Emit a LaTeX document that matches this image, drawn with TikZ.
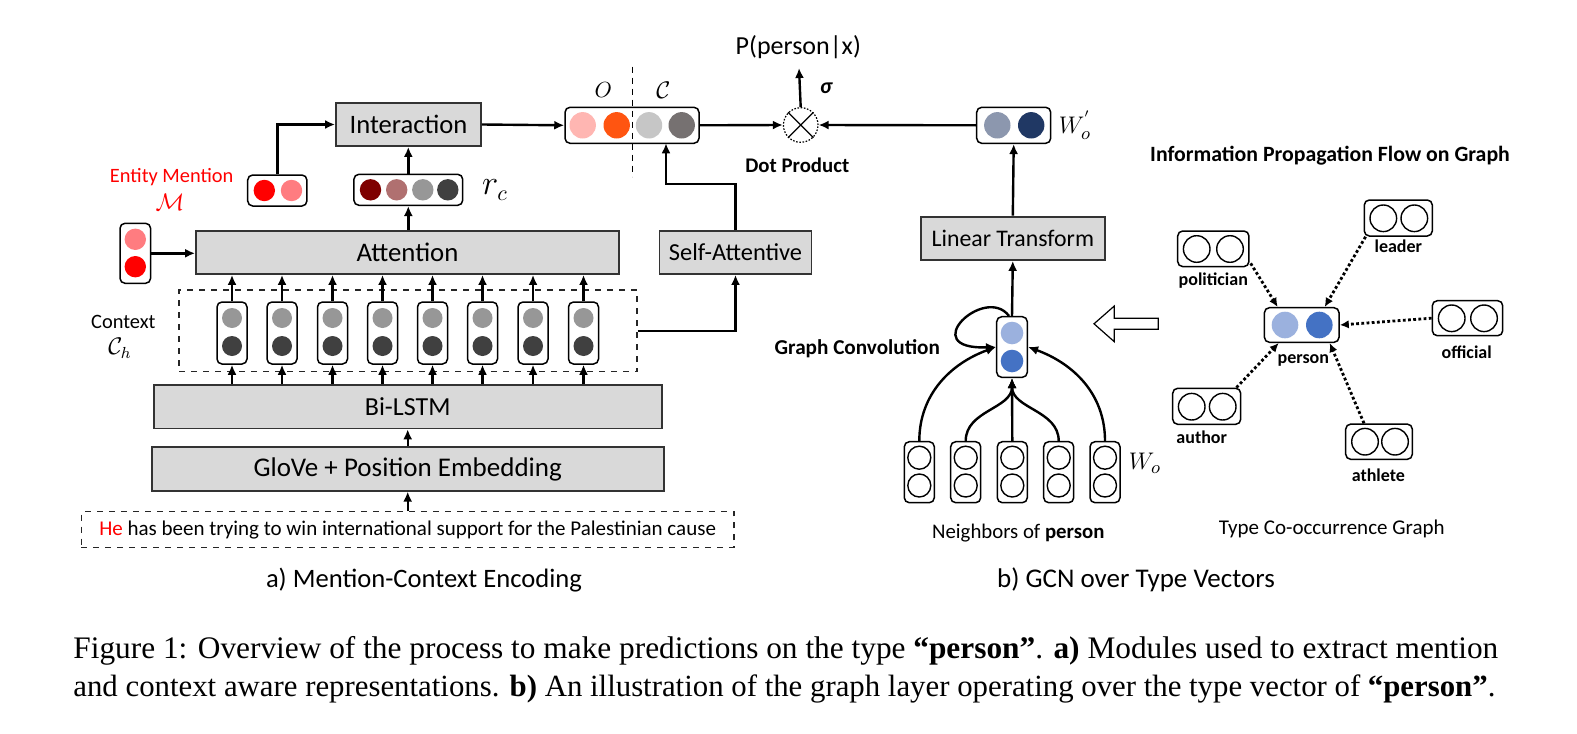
\documentclass[tikz,border=0pt]{standalone}
\usepackage{fontspec}
\setmainfont{Carlito}
\newfontfamily\capfont{Liberation Serif}
\usetikzlibrary{arrows.meta,calc}
\definecolor{boxgray}{HTML}{D9D9D9}
\definecolor{mred}{HTML}{FF0000}
\definecolor{mlight}{HTML}{FF7C80}
\definecolor{rcA}{HTML}{7F0000}
\definecolor{rcB}{HTML}{B07070}
\definecolor{cgray}{HTML}{979797}
\definecolor{cdark}{HTML}{404040}
\definecolor{ocA}{HTML}{FFB6B2}
\definecolor{ocB}{HTML}{FF5511}
\definecolor{ocC}{HTML}{C6C6C6}
\definecolor{ocD}{HTML}{767171}
\definecolor{woA}{HTML}{8C97AE}
\definecolor{woB}{HTML}{203864}
\definecolor{pA}{HTML}{9BB1DE}
\definecolor{pB}{HTML}{4472C4}
\tikzset{
  gbox/.style={draw=black!80, fill=boxgray, line width=0.9pt, inner sep=0pt, font=\fontsize{13.3}{15}\selectfont},
  vecbox/.style={draw=black, fill=white, rounded corners=2.5pt, line width=0.75pt, inner sep=0pt},
  dotc/.style={circle, inner sep=0pt, minimum size=#1},
  ring/.style={circle, draw=black, line width=0.7pt, inner sep=0pt, minimum size=#1},
  arr/.style={-{Latex[length=5pt,width=4.5pt]}, line width=1.2pt},
  darr/.style={-{Latex[length=4.5pt,width=4.2pt]}, line width=1.4pt, dash pattern=on 1.4pt off 1.2pt},
  lbl/.style={inner sep=0pt, font=\fontsize{10.2}{12}\selectfont},
  blbl/.style={inner sep=0pt, font=\fontsize{10.5}{12}\selectfont\bfseries},
  tlbl/.style={inner sep=0pt, font=\fontsize{9}{11}\selectfont\bfseries}
}
\begin{document}
\begin{tikzpicture}[x=0.5pt,y=-0.5pt]
\useasboundingbox (0,0) rectangle (1577,733);

% ---------- left part ----------
\node[gbox, minimum width=72.5pt, minimum height=21.5pt] (inter) at (408.5,124.5) {Interaction};
\node[gbox, minimum width=211.5pt, minimum height=21.5pt, font=\fontsize{13.4}{15}\selectfont] (att) at (407.5,252.5) {Attention};
\node[gbox, minimum width=76pt, minimum height=21.5pt, font=\fontsize{12.2}{15}\selectfont] (sa) at (735.5,252.5) {Self-Attentive};
\node[gbox, minimum width=254pt, minimum height=21.7pt, font=\fontsize{13}{15}\selectfont] (bil) at (407.7,406.7) {Bi-LSTM};
\node[gbox, minimum width=256pt, minimum height=21.7pt, font=\fontsize{13.5}{15}\selectfont] (glove) at (407.7,469) {GloVe + Position Embedding};
\node[draw=black!85, dashed, line width=0.6pt, minimum width=326.3pt, minimum height=18pt, inner sep=0pt, font=\fontsize{10.5}{12}\selectfont] (sent) at (407.7,529.7) {\textcolor{mred}{He} has been trying to win international support for the Palestinian cause};
\node[draw=black!85, dashed, line width=0.6pt, minimum width=229pt, minimum height=40.8pt, inner sep=0pt] (ctx) at (408,330.8) {};

% entity mention horizontal vector
\node[vecbox, minimum width=29.6pt, minimum height=15.5pt] (mh) at (277.3,190.5) {};
\node[dotc=10.7pt, fill=mred] (mh1) at (264.3,190.5) {};
\node[dotc=10.7pt, fill=mlight] (mh2) at (291.5,190.5) {};
% r_c vector
\node[vecbox, minimum width=54.4pt, minimum height=15.5pt] (rc) at (408.3,189.8) {};
\node[dotc=10.7pt, fill=rcA] (rc1) at (370.5,189.8) {};
\node[dotc=10.7pt, fill=rcB] (rc2) at (396.7,189.8) {};
\node[dotc=10.7pt, fill=cgray] (rc3) at (422.8,189.8) {};
\node[dotc=10.7pt, fill=cdark] (rc4) at (447.8,189.8) {};
% mention vertical vector
\node[vecbox, minimum width=15.3pt, minimum height=30pt] (mv) at (135.3,253.3) {};
\node[dotc=10.7pt, fill=mlight] (mv1) at (135.3,239.3) {};
\node[dotc=10.7pt, fill=mred] (mv2) at (135.3,266.7) {};

\node[lbl, text=mred] (emt) at (171.7,177) {Entity Mention};
\node[inner sep=0pt, text=mred, font=\fontsize{12}{14}\selectfont] (eml) at (170,202.5) {$\mathcal{M}$};
\node[inner sep=0pt, font=\fontsize{16}{18}\selectfont] (rcl) at (495,190) {$r_c$};
\node[lbl] (ctxt) at (123.4,321.5) {Context};
\node[inner sep=0pt, font=\fontsize{12}{14}\selectfont] (ctxl) at (120,348.5) {$\mathcal{C}_h$};

% context vectors
\foreach \x [count=\i] in {232,282,332.5,382.5,432.5,482.5,533,583.5} {
  \node[vecbox, minimum width=15pt, minimum height=31pt] (c\i) at (\x,333) {};
  \node[dotc=10pt, fill=cgray] (c\i a) at (\x,318) {};
  \node[dotc=10pt, fill=cdark] (c\i b) at (\x,346) {};
  \draw[arr] (c\i.north) -- (c\i.north |- att.south);
  \draw[arr] (c\i.south |- bil.north) -- (c\i.south);
}

% O / C vector
\node[vecbox, minimum width=67pt, minimum height=18pt] (oc) at (632,125.3) {};
\node[dotc=13.2pt, fill=ocA] (oc1) at (582.7,125.3) {};
\node[dotc=13.2pt, fill=ocB] (oc2) at (616.7,125.3) {};
\node[dotc=13.2pt, fill=ocC] (oc3) at (649,125.3) {};
\node[dotc=13.2pt, fill=ocD] (oc4) at (681.7,125.3) {};
\coordinate (dtop) at (632.7,66.7);
\coordinate (dbot) at (632.7,176.7);
\draw[line width=0.75pt, dash pattern=on 3pt off 2.5pt] (dtop) -- (dbot);
\node[inner sep=0pt, font=\fontsize{11}{13}\selectfont] (ol) at (603.3,90) {$O$};
\node[inner sep=0pt, font=\fontsize{13}{15}\selectfont] (cl) at (663.3,90) {$\mathcal{C}$};

% arrows left part
\draw[arr] (mh.north) |- (inter.west);
\draw[arr] (rc.north) -- (rc.north |- inter.south);
\draw[arr] (rc.south |- att.north) -- (rc.south);
\draw[arr] (mv.east) -- (mv.east -| att.west);
\draw[arr] (glove.north) -- (bil.south);
\draw[arr] (sent.north) -- (glove.south);
\draw[arr] (ctx.east) -| (sa.south);
\coordinate (ocin) at (666,143.3);
\draw[arr] (sa.north) -- ++(0,-46) -| (ocin);
\draw[arr] (inter.east) -- (oc.west);

% dot product
\node[circle, draw=black, line width=0.6pt, dash pattern=on 0.8pt off 0.8pt, minimum size=17.3pt, inner sep=0pt] (dp) at (800.7,125) {};
\draw[line width=0.6pt] (dp.north west) -- (dp.south east);
\draw[line width=0.6pt] (dp.north east) -- (dp.south west);
\draw[arr] (oc.east) -- (dp.west);
\coordinate (ptop) at (799,68);
\draw[arr] (dp.north) -- (ptop);
\node[inner sep=0pt, font=\fontsize{13}{15}\selectfont] (pl) at (798.3,46.7) {P(person|x)};
\node[inner sep=0pt, font=\fontsize{11}{13}\selectfont\bfseries\itshape] (sig) at (826,88.3) {σ};
\node[blbl, font=\fontsize{10.4}{12}\selectfont\bfseries] (dpl) at (797.3,165) {Dot Product};

% W_o' vector
\node[vecbox, minimum width=37pt, minimum height=18pt] (wo) at (1013.7,125.3) {};
\node[dotc=13.2pt, fill=woA] (wo1) at (997.3,125.3) {};
\node[dotc=13.2pt, fill=woB] (wo2) at (1031.2,125.3) {};
\node[inner sep=0pt, font=\fontsize{13}{15}\selectfont] (wol) at (1075,125) {$W_o^{'}$};
\draw[arr] (wo.west) -- (dp.east);

% ---------- GCN part ----------
\node[gbox, minimum width=92pt, minimum height=21.7pt, font=\fontsize{11.9}{15}\selectfont] (lin) at (1012.8,238.3) {Linear Transform};
\node[vecbox, minimum width=15.3pt, minimum height=30.3pt] (pv) at (1012,347) {};
\node[dotc=11.3pt, fill=pA] (pv1) at (1012,333) {};
\node[dotc=11.3pt, fill=pB] (pv2) at (1012,361) {};
\draw[arr] (lin.north) -- (wo.south);
\draw[arr] (pv.north) -- (lin.south);
\draw[arr] ($(pv.north)+(-3,0)$) .. controls (985,284) and (915,350) .. (pv.west);
\node[blbl, font=\fontsize{10.6}{12}\selectfont\bfseries] (gcl) at (857.3,348.3) {Graph Convolution};

\foreach \x [count=\i] in {919.3,965.7,1012.3,1058.7,1105} {
  \node[vecbox, minimum width=15pt, minimum height=30.5pt] (n\i) at (\x,472.2) {};
  \node[ring=11.5pt] (n\i a) at (\x,457.7) {};
  \node[ring=11.5pt] (n\i b) at (\x,485.5) {};
}
\draw[arr] (n1.north) to[out=90, in=200] (pv.west);
\draw[arr] (n5.north) to[out=90, in=-20] (pv.east);
\draw[arr] (n2.north) to[out=90, in=-90] (pv.south);
\draw[arr] (n4.north) to[out=90, in=-90] (pv.south);
\draw[arr] (n3.north) -- (pv.south);
\node[inner sep=0pt, font=\fontsize{13}{15}\selectfont] (wol2) at (1145,463) {$W_o$};
\node[inner sep=0pt, font=\fontsize{10.4}{12}\selectfont] (nbl) at (1018.3,532.7) {Neighbors of \textbf{person}};

% hollow arrow
\draw[line width=0.6pt, fill=white] (1158.3,318.3) -- (1114.3,318.3) -- (1114.3,306) -- (1094,323.8) -- (1114.3,341.7) -- (1114.3,329.3) -- (1158.3,329.3) -- cycle;

% ---------- type co-occurrence graph ----------
\node[blbl, font=\fontsize{10.9}{12}\selectfont\bfseries] (ipf) at (1330,155.7) {Information Propagation Flow on Graph};
\node[vecbox, minimum width=37.3pt, minimum height=17.3pt] (per) at (1301.7,325) {};
\node[dotc=13.3pt, fill=pA] (per1) at (1285,325) {};
\node[dotc=13.3pt, fill=pB] (per2) at (1319.3,325) {};
\node[tlbl] (perl) at (1303.3,360) {person};

\node[vecbox, minimum width=35.6pt, minimum height=17.8pt] (pol) at (1213.3,248.8) {};
\node[ring=13.3pt] (pol1) at (1196.7,249) {};
\node[ring=13.3pt] (pol2) at (1230,249) {};
\node[tlbl] (poll) at (1213.3,281) {politician};

\node[vecbox, minimum width=34pt, minimum height=18pt] (lea) at (1398.3,218) {};
\node[ring=13.3pt] (lea1) at (1383.3,218.3) {};
\node[ring=13.3pt] (lea2) at (1414.3,218.3) {};
\node[tlbl] (leal) at (1398.3,246) {leader};

\node[vecbox, minimum width=35.2pt, minimum height=17.5pt] (off) at (1467.5,318.2) {};
\node[ring=13.3pt] (off1) at (1451.7,318.3) {};
\node[ring=13.3pt] (off2) at (1484,318.3) {};
\node[tlbl] (offl) at (1466.7,352.3) {official};

\node[vecbox, minimum width=34pt, minimum height=18pt] (aut) at (1206.7,406.3) {};
\node[ring=13.3pt] (aut1) at (1191.7,406.7) {};
\node[ring=13.3pt] (aut2) at (1222.7,406.7) {};
\node[tlbl] (autl) at (1201.7,437.7) {author};

\node[vecbox, minimum width=33.3pt, minimum height=17.6pt] (ath) at (1379,441.7) {};
\node[ring=13.3pt] (ath1) at (1365,441.7) {};
\node[ring=13.3pt] (ath2) at (1395,441.7) {};
\node[tlbl] (athl) at (1378.3,475.7) {athlete};

\draw[darr] ($(pol.south east)+(1,-4)$) -- ($(per.north west)+(14,0)$);
\draw[darr] ($(lea.south west)+(2,0)$) -- ($(per.north)+(23,0)$);
\draw[darr] (off.west) -- (per.east);
\draw[darr] ($(aut.north east)+(-5,0)$) -- ($(per.south west)+(15,0)$);
\draw[darr] ($(ath.north)+(-15,0)$) -- ($(per.south)+(28,0)$);

\node[inner sep=0pt, font=\fontsize{10.5}{12}\selectfont] (tcg) at (1331.7,529.3) {Type Co-occurrence Graph};

% sub-captions
\node[inner sep=0pt, font=\fontsize{13.3}{15}\selectfont] (capa) at (424,580) {a) Mention-Context Encoding};
\node[inner sep=0pt, font=\fontsize{13.5}{15}\selectfont] (capb) at (1136,580) {b) GCN over Type Vectors};

% figure caption
\node[inner sep=0pt, anchor=west, font=\capfont] (cap1) at (73,651) {\resizebox{712.5pt}{!}{Figure 1: Overview of the process to make predictions on the type \textbf{“person”}. \textbf{a)} Modules used to extract mention}};
\node[inner sep=0pt, anchor=west, font=\capfont] (cap2) at (73,689) {\resizebox{711pt}{!}{and context aware representations. \textbf{b)} An illustration of the graph layer operating over the type vector of \textbf{“person”}.}};
\end{tikzpicture}
\end{document}
